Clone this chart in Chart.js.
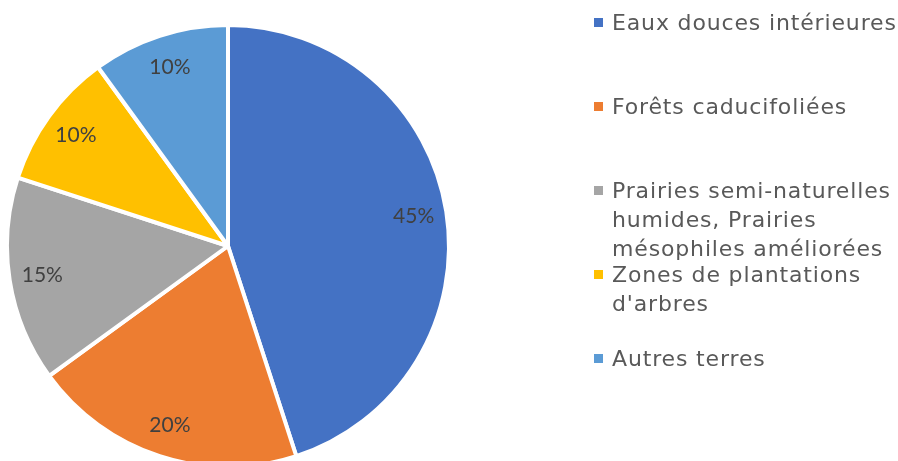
<!DOCTYPE html>
<html>
<head>
<meta charset="utf-8">
<script src="https://cdn.jsdelivr.net/npm/chart.js@4.4.0/dist/chart.umd.min.js"></script>
<style>
  html, body { margin: 0; padding: 0; background: #fff; }
  #wrap { position: relative; width: 898px; height: 461px; overflow: hidden; }
  #pie { position: absolute; left: 0; top: 0; }
  #legend { position: absolute; left: 594px; top: 0; width: 304px; height: 461px;
            font-family: "DejaVu Sans", Verdana, sans-serif; font-size: 22px;
            letter-spacing: 0.85px; color: #595959; }
  .item { position: absolute; left: 0; display: flex; align-items: flex-start; line-height: 29px; }
  .box { width: 9px; height: 9px; margin-top: 10px; margin-right: 9px; flex: none; }
</style>
</head>
<body>
<div id="wrap">
  <canvas id="pie" width="898" height="461"></canvas>
  <div id="legend"></div>
</div>
<script>
// Land-cover shares (%)
const categories = [
  "Eaux douces intérieures",
  "Forêts caducifoliées",
  "Prairies semi-naturelles humides, Prairies mésophiles améliorées",
  "Zones de plantations d'arbres",
  "Autres terres"
];
const shares = [45, 20, 15, 10, 10];
const colors = ["#4472C4", "#ED7D31", "#A5A5A5", "#FFC000", "#5B9BD5"];

// Percent labels placed inside each slice, near the rim
const sliceLabels = {
  id: 'sliceLabels',
  afterDatasetsDraw(chart) {
    const ctx = chart.ctx;
    const meta = chart.getDatasetMeta(0);
    const vals = chart.data.datasets[0].data;
    ctx.save();
    ctx.font = '21px Lato, "Open Sans", sans-serif';
    ctx.fillStyle = '#404040';
    ctx.textAlign = 'center';
    ctx.textBaseline = 'middle';
    meta.data.forEach((arc, i) => {
      const p = arc.getProps(['x', 'y', 'startAngle', 'endAngle', 'outerRadius'], true);
      const mid = (p.startAngle + p.endAngle) / 2;
      const r = 188;
      ctx.fillText(vals[i] + '%', p.x + Math.cos(mid) * r, p.y + Math.sin(mid) * r);
    });
    ctx.restore();
  }
};

new Chart(document.getElementById('pie'), {
  type: 'pie',
  data: {
    labels: categories,
    datasets: [{
      data: shares,
      backgroundColor: colors,
      borderColor: '#ffffff',
      borderWidth: 4,
      radius: 221
    }]
  },
  options: {
    responsive: false,
    animation: false,
    layout: { padding: { left: 0, right: 442, top: 31, bottom: 0 } },
    plugins: { legend: { display: false }, tooltip: { enabled: false } }
  },
  plugins: [sliceLabels]
});

// Legend entries, one slot per category
const legend = document.getElementById('legend');
categories.forEach((name, i) => {
  const item = document.createElement('div');
  item.className = 'item';
  item.style.top = (22 + 84 * i - 14.5) + 'px';
  const box = document.createElement('span');
  box.className = 'box';
  box.style.background = colors[i];
  const txt = document.createElement('span');
  txt.textContent = name;
  txt.style.width = '290px';
  item.appendChild(box);
  item.appendChild(txt);
  legend.appendChild(item);
});
</script>
</body>
</html>
